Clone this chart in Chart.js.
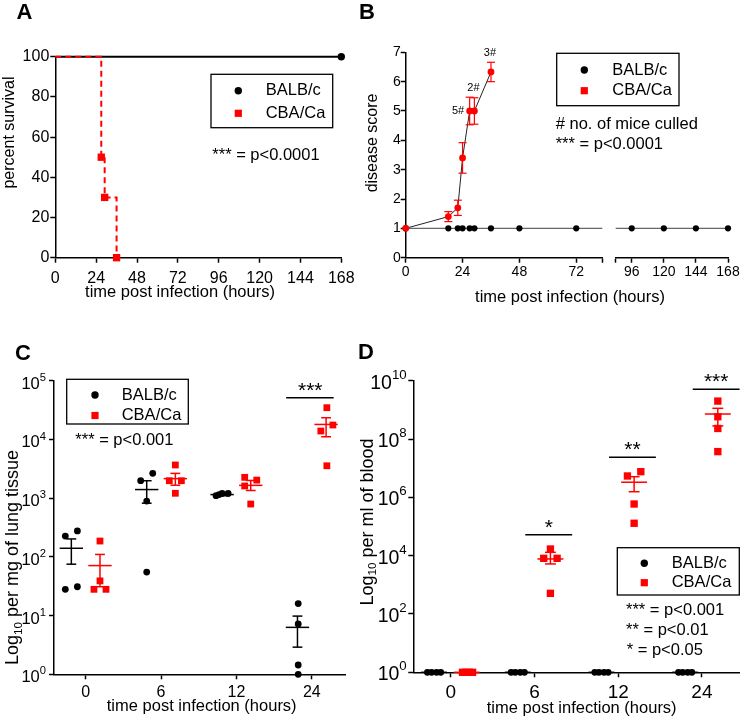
<!DOCTYPE html>
<html>
<head>
<meta charset="utf-8">
<title>Survival, disease score and bacterial load</title>
<script src="https://cdn.jsdelivr.net/npm/chart.js@4.4.1/dist/chart.umd.min.js"></script>
<style>
  html, body { margin: 0; padding: 0; background: #fff; }
  #fig { position: relative; width: 740px; height: 717px; }
  #fig canvas { position: absolute; left: 0; top: 0; }
</style>
</head>
<body>
<div id="fig">
  <canvas id="panelA" width="740" height="717"></canvas>
  <canvas id="panelB1" width="740" height="717"></canvas>
  <canvas id="panelB2" width="740" height="717"></canvas>
  <canvas id="panelC" width="740" height="717"></canvas>
  <canvas id="panelD" width="740" height="717"></canvas>
</div>
<script>
// ---------- data ----------
const groups = ['BALB/c', 'CBA/Ca'];

// A: percent survival
const survTimeBALB = [0, 168];
const survBALB = [100, 100];
const survTimeCBA = [0, 27, 29, 36];
const survCBA = [100, 50, 30, 0];
const survTicksX = [0, 24, 48, 72, 96, 120, 144, 168];
const survTicksY = [0, 20, 40, 60, 80, 100];

// B: disease score (x axis broken between 83 and 84 h)
const scoreTimeBALB = [0, 18, 22, 24, 27, 29, 36, 48, 72, 96, 120, 144, 168];
const scoreBALB = [1, 1, 1, 1, 1, 1, 1, 1, 1, 1, 1, 1, 1];
const scoreTimeCBA = [0, 18, 22, 24, 27, 29, 36];
const scoreCBA = [1, 1.4, 1.7, 3.4, 5, 5, 6.33];
const scoreSemCBA = [0, 0.17, 0.26, 0.52, 0.47, 0.45, 0.33];
const culledTime = [27, 29, 36];
const culledText = ['5#', '2#', '3#'];
const scoreTicksLeft = [0, 24, 48, 72, 83];
const scoreTicksRight = [84, 96, 120, 144, 168];
const scoreTicksY = [0, 1, 2, 3, 4, 5, 6, 7];

// C and D share the time categories
const timeCats = ['0', '6', '12', '24'];

// C: per mg of lung tissue
const lungBALB = [[226, 276, 28, 31], [1980, 2650, 893, 55], [1100, 1200, 1200, 1150], [16, 7.2, 1.44, 1]];
const lungCBA = [[186, 39, 28, 28], [3670, 1980, 1980, 1210], [2260, 2030, 1610, 794], [34700, 17600, 13900, 3560]];
const lungJitBALB = [[-0.27, -0.11, -0.27, -0.11], [-0.27, -0.11, -0.19, -0.19], [-0.27, -0.19, -0.11, -0.23], [-0.18, -0.18, -0.18, -0.18]];
const lungJitCBA = [[0.19, 0.19, 0.11, 0.27], [0.19, 0.11, 0.27, 0.19], [0.11, 0.27, 0.11, 0.19], [0.2, 0.28, 0.12, 0.2]];
const lungMeanBALB = [140, 1400, 1150, 6.3];
const lungLoBALB = [75, 820, 1100, 2.9];
const lungHiBALB = [202, 1980, 1200, 9.8];
const lungMeanCBA = [71, 2150, 1650, 18000];
const lungLoCBA = [31, 1660, 1350, 11100];
const lungHiCBA = [110, 2640, 2000, 23400];
const lungSigCat = [3];
const lungSigLevel = [51000];
const lungSigStars = ['***'];
const lungExp = [0, 1, 2, 3, 4, 5];

// D: per ml of blood
const bloodBALB = [[1, 1, 1, 1], [1, 1, 1, 1], [1, 1, 1, 1], [1, 1, 1, 1]];
const bloodCBA = [[1, 1, 1, 1], [16900, 8100, 8100, 510], [5.4e6, 7.6e6, 5.9e5, 1.29e5], [2.0e9, 5.8e8, 2.3e8, 3.7e7]];
const bloodJitBALB = [[-0.28, -0.23, -0.17, -0.12], [-0.28, -0.23, -0.17, -0.12], [-0.28, -0.23, -0.17, -0.12], [-0.28, -0.23, -0.17, -0.12]];
const bloodJitCBA = [[0.14, 0.18, 0.22, 0.26], [0.19, 0.11, 0.27, 0.19], [0.11, 0.27, 0.19, 0.19], [0.19, 0.19, 0.19, 0.19]];
const bloodMeanBALB = [1, 1, 1, 1];
const bloodMeanCBA = [1, 7700, 3.3e6, 7.2e8];
const bloodLoCBA = [1, 5200, 1.56e6, 2.8e8];
const bloodHiCBA = [1, 13000, 5.1e6, 1.13e9];
const bloodSigCat = [1, 2, 3];
const bloodSigLevel = [52000, 2.36e7, 5.07e9];
const bloodSigStars = ['*', '**', '***'];
const bloodExp = [0, 2, 4, 6, 8, 10];

// ---------- helpers ----------
const FONT = '"Liberation Sans", Arial, Helvetica, sans-serif';
const RED = '#ff0000';
const PAGE_W = 740, PAGE_H = 717;

function font(size, bold) { return (bold ? 'bold ' : '') + size + 'px ' + FONT; }

function txt(ctx, s, x, y, size, align, baseline, bold) {
  ctx.save();
  ctx.font = font(size, bold);
  ctx.fillStyle = '#000';
  ctx.textAlign = align || 'left';
  ctx.textBaseline = baseline || 'middle';
  ctx.fillText(s, x, y);
  ctx.restore();
}

// rotated (bottom to top) text, parts = [[text, isSubscript], ...]
function vtxt(ctx, parts, cx, cy, size) {
  ctx.save();
  ctx.translate(cx, cy);
  ctx.rotate(-Math.PI / 2);
  ctx.fillStyle = '#000';
  ctx.textBaseline = 'middle';
  ctx.textAlign = 'left';
  let total = 0;
  const w = parts.map(p => { ctx.font = font(p[1] ? size * 0.65 : size); const m = ctx.measureText(p[0]).width; total += m; return m; });
  let x = -total / 2;
  parts.forEach((p, i) => {
    ctx.font = font(p[1] ? size * 0.65 : size);
    ctx.fillText(p[0], x, p[1] ? size * 0.28 : 0);
    x += w[i];
  });
  ctx.restore();
}

function seg(ctx, x0, y0, x1, y1) {
  ctx.beginPath(); ctx.moveTo(x0, y0); ctx.lineTo(x1, y1); ctx.stroke();
}

function legendBox(ctx, box, mx, tx, y0, y1) {
  ctx.save();
  ctx.strokeStyle = '#000';
  ctx.lineWidth = 1.3;
  ctx.strokeRect(box[0], box[1], box[2] - box[0], box[3] - box[1]);
  ctx.fillStyle = '#000';
  ctx.beginPath(); ctx.arc(mx, y0, 3.7, 0, 2 * Math.PI); ctx.fill();
  ctx.fillStyle = RED;
  ctx.fillRect(mx - 3.6, y1 - 3.6, 7.2, 7.2);
  ctx.restore();
  txt(ctx, groups[0], tx, y0, 16.5);
  txt(ctx, groups[1], tx, y1, 16.5);
}

function zeroPad(s) { s.paddingLeft = s.paddingRight = s.paddingTop = s.paddingBottom = 0; }

function axis(pos, type, min, max, ticks, labels, size, pad, thick, show) {
  return {
    type: type, position: pos, min: min, max: max, display: show !== false,
    afterBuildTicks: s => { s.ticks = ticks.map(v => ({ value: v })); },
    afterFit: s => { if (pos === 'left') s.width = thick; else s.height = thick; zeroPad(s); },
    border: { color: '#000', width: 1.5 },
    grid: { drawOnChartArea: false, tickLength: 5, tickColor: '#000', tickWidth: 1.5 },
    ticks: { color: '#000', font: { family: FONT, size: size }, padding: pad, maxRotation: 0, autoSkip: false,
             callback: (v, i) => labels[i] }
  };
}

function pts(xs, ys) { return xs.map((x, i) => ({ x: x, y: ys[i] })); }

function jitterPts(vals, jit) {
  return vals.flatMap((g, i) => g.map((v, j) => ({ x: i + jit[i][j], y: v })));
}

function makeChart(id, area, yW, xH, datasets, scales, over, after) {
  return new Chart(document.getElementById(id), {
    type: 'scatter',
    data: { datasets: datasets },
    options: {
      responsive: false, animation: false, devicePixelRatio: 1, events: [],
      layout: { autoPadding: false, padding: { left: area[0] - yW, top: area[1], right: PAGE_W - area[2], bottom: PAGE_H - area[3] - xH } },
      plugins: { legend: { display: false }, tooltip: { enabled: false } },
      scales: scales
    },
    plugins: [{ id: id + 'Decor', afterDatasetsDraw: over, afterDraw: after }]
  });
}

function meanSem(chart, mean, lo, hi, side, color) {
  const xs = chart.scales.x, ys = chart.scales.y, ctx = chart.ctx;
  ctx.save();
  ctx.strokeStyle = color;
  ctx.lineWidth = 1.5;
  mean.forEach((m, i) => {
    const c = i + side;
    const x = xs.getPixelForValue(c);
    const half = xs.getPixelForValue(c + 0.155) - x;
    const cap = xs.getPixelForValue(c + 0.065) - x;
    const ym = ys.getPixelForValue(m), yl = ys.getPixelForValue(lo[i]), yh = ys.getPixelForValue(hi[i]);
    seg(ctx, x - half, ym, x + half, ym);
    seg(ctx, x, yl, x, yh);
    seg(ctx, x - cap, yl, x + cap, yl);
    seg(ctx, x - cap, yh, x + cap, yh);
  });
  ctx.restore();
}

function sigBars(chart, cats, levels, stars, from, to, starOff) {
  const xs = chart.scales.x, ys = chart.scales.y, ctx = chart.ctx;
  ctx.save();
  ctx.strokeStyle = '#000';
  ctx.lineWidth = 1.5;
  cats.forEach((c, i) => {
    const y = ys.getPixelForValue(levels[i]);
    seg(ctx, xs.getPixelForValue(c + from), y, xs.getPixelForValue(c + to), y);
    txt(ctx, stars[i], xs.getPixelForValue(c + starOff), y - 1, 21, 'center', 'alphabetic');
  });
  ctx.restore();
}

function powLabels(chart, exps, size, xr, dy0, dy1) {
  const ys = chart.scales.y, ctx = chart.ctx;
  ctx.save();
  ctx.fillStyle = '#000';
  ctx.textBaseline = 'middle';
  ctx.textAlign = 'right';
  exps.forEach(k => {
    const y = ys.getPixelForValue(Math.pow(10, k));
    ctx.font = font(size * 0.68);
    const e = String(k), we = ctx.measureText(e).width;
    ctx.fillText(e, xr, y + dy1);
    ctx.font = font(size);
    ctx.fillText('10', xr - we, y + dy0);
  });
  ctx.restore();
}

// ---------- A: survival ----------
makeChart('panelA', [55.3, 56.7, 341.3, 257.7], 50, 45, [
  { data: pts(survTimeCBA, survCBA), showLine: true, stepped: true, order: 0, clip: false,
    borderColor: RED, borderWidth: 2, borderDash: [6, 4],
    pointStyle: 'rect', pointRadius: [0, 5.2, 5.2, 5.2], pointBackgroundColor: RED, pointBorderWidth: 0 },
  { data: pts(survTimeBALB, survBALB), showLine: true, order: 1, clip: false,
    borderColor: '#000', borderWidth: 2,
    pointRadius: [0, 3.7], pointBackgroundColor: '#000', pointBorderWidth: 0 }
], {
  x: axis('bottom', 'linear', 0, 168, survTicksX, survTicksX.map(String), 16, 6.5, 45),
  y: axis('left', 'linear', 0, 100, survTicksY, survTicksY.map(String), 16, 1, 50)
}, null, chart => {
  const ctx = chart.ctx;
  txt(ctx, 'A', 24.5, 13, 22, 'center', 'middle', true);
  legendBox(ctx, [211, 74.3, 332.7, 127.7], 238.3, 265.7, 90.7, 113.3);
  txt(ctx, '*** = p<0.0001', 212.3, 155, 16.5);
  vtxt(ctx, [['percent survival']], 9.5, 132.5, 16);
  txt(ctx, 'time post infection (hours)', 180, 292, 16.5, 'center');
});

// ---------- B: disease score, left part ----------
const scoreSets = (clip) => [
  { data: pts(scoreTimeCBA, scoreCBA), showLine: true, order: 0, clip: clip,
    borderColor: '#222', borderWidth: 1,
    pointRadius: 3.4, pointBackgroundColor: RED, pointBorderWidth: 0 },
  { data: pts(scoreTimeBALB, scoreBALB), showLine: true, order: 1, clip: clip,
    borderColor: '#666', borderWidth: 1.2,
    pointRadius: 3.1, pointBackgroundColor: '#000', pointBorderWidth: 0 }
];

makeChart('panelB1', [405.7, 52.3, 602.3, 257.7], 40, 45,
  scoreSets({ left: 6, top: 12, right: 0, bottom: 6 }), {
  x: axis('bottom', 'linear', 0, 83, scoreTicksLeft, ['0', '24', '48', '72', ''], 14, 1, 45),
  y: axis('left', 'linear', 0, 7, scoreTicksY, scoreTicksY.map(String), 14, 0, 40)
}, chart => {
  const xs = chart.scales.x, ys = chart.scales.y, ctx = chart.ctx;
  ctx.save();
  ctx.strokeStyle = RED;
  ctx.lineWidth = 1.2;
  scoreTimeCBA.forEach((t, i) => {
    if (!scoreSemCBA[i]) return;
    const x = xs.getPixelForValue(t);
    const y0 = ys.getPixelForValue(scoreCBA[i] - scoreSemCBA[i]);
    const y1 = ys.getPixelForValue(scoreCBA[i] + scoreSemCBA[i]);
    seg(ctx, x, y0, x, y1);
    seg(ctx, x - 4, y0, x + 4, y0);
    seg(ctx, x - 4, y1, x + 4, y1);
  });
  ctx.restore();
  culledTime.forEach((t, i) => {
    const k = scoreTimeCBA.indexOf(t);
    const x = xs.getPixelForValue(t);
    if (i === 0) {
      txt(ctx, culledText[i], x - 5.5, ys.getPixelForValue(scoreCBA[k]), 11, 'right');
    } else {
      txt(ctx, culledText[i], x - 1, ys.getPixelForValue(scoreCBA[k] + scoreSemCBA[k]) - 9.5, 11, 'center');
    }
  });
}, chart => {
  const ctx = chart.ctx;
  txt(ctx, 'B', 367, 13, 22, 'center', 'middle', true);
  legendBox(ctx, [556.7, 53.3, 679, 105.7], 584.3, 612.3, 70, 90.7);
  txt(ctx, '# no. of mice culled', 555.7, 124, 16.5);
  txt(ctx, '*** = p<0.0001', 555.7, 144, 16.5);
  vtxt(ctx, [['disease score']], 373, 143, 16);
  txt(ctx, 'time post infection (hours)', 570, 297, 16.5, 'center');
});

// ---------- B: right part after the axis break ----------
makeChart('panelB2', [615.7, 52.3, 728, 257.7], 0, 45,
  scoreSets({ left: 0, top: 12, right: 6, bottom: 6 }), {
  x: axis('bottom', 'linear', 84, 168, scoreTicksRight, ['', '96', '120', '144', '168'], 14, 1, 45),
  y: axis('left', 'linear', 0, 7, scoreTicksY, scoreTicksY.map(String), 14, 0, 0, false)
}, null, null);

// ---------- C: lung ----------
makeChart('panelC', [54, 380.7, 345.7, 674.3], 50, 40, [
  { data: jitterPts(lungCBA, lungJitCBA), order: 0, clip: false,
    pointStyle: 'rect', pointRadius: 4.8, pointBackgroundColor: RED, pointBorderWidth: 0 },
  { data: jitterPts(lungBALB, lungJitBALB), order: 1, clip: false,
    pointRadius: 3.4, pointBackgroundColor: '#000', pointBorderWidth: 0 }
], {
  x: axis('bottom', 'linear', -0.42, 3.45, [0, 1, 2, 3], timeCats, 16, 4, 40),
  y: Object.assign(axis('left', 'logarithmic', 1, 1e5, lungExp.map(k => Math.pow(10, k)), lungExp.map(() => ''), 16, 0, 50),
                   { ticks: { display: false } })
}, chart => {
  meanSem(chart, lungMeanBALB, lungLoBALB, lungHiBALB, -0.19, '#000');
  meanSem(chart, lungMeanCBA, lungLoCBA, lungHiCBA, 0.19, RED);
  sigBars(chart, lungSigCat, lungSigLevel, lungSigStars, -0.34, 0.29, -0.02);
}, chart => {
  const ctx = chart.ctx;
  txt(ctx, 'C', 23, 353.5, 22, 'center', 'middle', true);
  powLabels(chart, lungExp, 16.5, 46, 3.5, -3);
  legendBox(ctx, [66.7, 379.3, 188.3, 424], 95, 121.7, 395, 415.5);
  txt(ctx, '*** = p<0.001', 75.3, 440, 16.5);
  vtxt(ctx, [['Log'], ['10', true], [' per mg of lung tissue']], 13.5, 557.5, 18);
  txt(ctx, 'time post infection (hours)', 201.7, 706.7, 16.5, 'center');
});

// ---------- D: blood ----------
makeChart('panelD', [413.3, 380.7, 739, 672.3], 50, 40, [
  { data: jitterPts(bloodCBA, bloodJitCBA), order: 0, clip: false,
    pointStyle: 'rect', pointRadius: 5.2, pointBackgroundColor: RED, pointBorderWidth: 0 },
  { data: jitterPts(bloodBALB, bloodJitBALB), order: 1, clip: false,
    pointRadius: 3.4, pointBackgroundColor: '#000', pointBorderWidth: 0 }
], {
  x: axis('bottom', 'linear', -0.448, 3.443, [0, 1, 2, 3], timeCats, 19, 4, 40),
  y: Object.assign(axis('left', 'logarithmic', 1, 1e10, bloodExp.map(k => Math.pow(10, k)), bloodExp.map(() => ''), 19, 0, 50),
                   { ticks: { display: false } })
}, chart => {
  meanSem(chart, bloodMeanBALB, bloodMeanBALB, bloodMeanBALB, -0.2, '#000');
  meanSem(chart, bloodMeanCBA, bloodLoCBA, bloodHiCBA, 0.19, RED);
  sigBars(chart, bloodSigCat, bloodSigLevel, bloodSigStars, -0.11, 0.45, 0.17);
}, chart => {
  const ctx = chart.ctx;
  txt(ctx, 'D', 366, 352.5, 22, 'center', 'middle', true);
  powLabels(chart, bloodExp, 19.5, 406.7, 2.6, -5.7);
  legendBox(ctx, [617.3, 547.7, 739.3, 595], 644.3, 671.7, 563.3, 582.7);
  txt(ctx, '*** = p<0.001', 626, 610, 16.5);
  txt(ctx, '** = p<0.01', 626, 630, 16.5);
  txt(ctx, '* = p<0.05', 626.7, 650, 16.5);
  vtxt(ctx, [['Log'], ['10', true], [' per ml of blood']], 368, 522, 18);
  txt(ctx, 'time post infection (hours)', 581.7, 708, 16.5, 'center');
});
</script>
</body>
</html>
